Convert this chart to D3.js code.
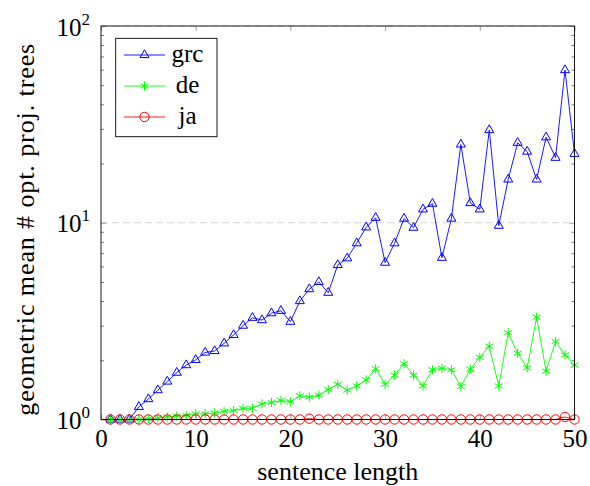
<!DOCTYPE html>
<html>
<head>
<meta charset="utf-8">
<script src="https://cdn.jsdelivr.net/npm/d3@7"></script>
</head>
<body style="margin:0">
<div id="chart"></div>
<script>
// values
const sentLen = [1,2,3,4,5,6,7,8,9,10,11,12,13,14,15,16,17,18,19,20,21,22,23,24,25,
                 26,27,28,29,30,31,32,33,34,35,36,37,38,39,40,41,42,43,44,45,46,47,48,49,50];
const grcVals = [1.0,1.0,1.0,1.16,1.27,1.41,1.56,1.73,1.89,2.01,2.19,2.23,2.44,2.69,3.0,3.29,3.2,3.47,3.57,3.14,
                 4.0,4.6,5.0,4.41,6.1,6.6,7.87,9.48,10.6,6.27,7.87,10.5,9.44,11.7,12.5,6.64,10.5,25.0,12.6,11.7,
                 29.6,9.66,16.6,25.5,23.0,16.6,27.2,21.4,59.7,22.4];
const deVals  = [1.0,1.0,1.0,1.0,1.01,1.02,1.03,1.04,1.05,1.07,1.07,1.08,1.10,1.11,1.14,1.14,1.2,1.22,1.25,1.23,
                 1.32,1.30,1.33,1.42,1.51,1.41,1.48,1.59,1.81,1.51,1.68,1.92,1.68,1.48,1.79,1.82,1.79,1.47,1.80,2.07,
                 2.36,1.48,2.76,2.17,1.83,3.31,1.76,2.49,2.13,1.89];
const jaVals  = [1.0,1.0,1.0,1.0,1.0,1.0,1.0,1.0,1.0,1.0,1.0,1.0,1.0,1.0,1.0,1.0,1.0,1.0,1.0,1.0,
                 1.0,1.01,1.0,1.0,1.0,1.0,1.0,1.0,1.0,1.0,1.0,1.0,1.0,1.0,1.0,1.0,1.0,1.0,1.0,1.0,
                 1.0,1.0,1.0,1.0,1.0,1.0,1.0,1.0,1.03,1.0];
const xTicks = [0,10,20,30,40,50];
const yTicks = [1,10,100];
const yTickExp = ["0","1","2"];

const width = 590, height = 486;
const margin = {left:101, right:15.5, top:26, bottom:66.5};
const fontSize = 25;
const serif = "Liberation Serif";

const svg = d3.select("#chart")
  .append("svg")
  .attr("width", width)
  .attr("height", height)
  .attr("font-family", serif);

const xScale = d3.scaleLinear()
  .domain([0, 50])
  .range([margin.left, width - margin.right]);

const yScale = d3.scaleLog()
  .domain([1, 100])
  .range([height - margin.bottom, margin.top]);

const x0 = xScale.range()[0], x1 = xScale.range()[1];
const yB = yScale.range()[0], yT = yScale.range()[1];

// dashed major grid
svg.append("g")
  .selectAll("line")
  .data(yTicks)
  .join("line")
    .attr("x1", x0).attr("x2", x1)
    .attr("y1", d => yScale(d)).attr("y2", d => yScale(d))
    .attr("stroke", "#d3d3d3")
    .attr("stroke-width", 1)
    .attr("stroke-dasharray", "7,4");

// minor y ticks (2..9 in each decade), both sides
const minor = [];
[1, 10].forEach(dec => { for (let k = 2; k <= 9; k++) minor.push(dec * k); });

svg.append("g")
  .attr("transform", `translate(${x0},0)`)
  .call(d3.axisRight(yScale).tickValues(minor).tickSize(3).tickFormat(""))
  .call(g => g.select(".domain").remove())
  .selectAll("line").attr("stroke", "#555").attr("stroke-width", 0.8);

svg.append("g")
  .attr("transform", `translate(${x1},0)`)
  .call(d3.axisLeft(yScale).tickValues(minor).tickSize(3).tickFormat(""))
  .call(g => g.select(".domain").remove())
  .selectAll("line").attr("stroke", "#555").attr("stroke-width", 0.8);

// major y ticks
[[x0, d3.axisRight], [x1, d3.axisLeft]].forEach(([pos, ax]) => {
  svg.append("g")
    .attr("transform", `translate(${pos},0)`)
    .call(ax(yScale).tickValues(yTicks).tickSize(5).tickFormat(""))
    .call(g => g.select(".domain").remove())
    .selectAll("line").attr("stroke", "#888").attr("stroke-width", 0.8);
});

// x ticks, bottom and top, pointing inward
const xAxis = svg.append("g")
  .attr("transform", `translate(0,${yB})`)
  .call(d3.axisBottom(xScale).tickValues(xTicks).tickSize(-5).tickPadding(0))
  .attr("font-family", serif)
  .attr("font-size", fontSize);
xAxis.select(".domain").remove();
xAxis.selectAll("line").attr("stroke", "#888").attr("stroke-width", 0.8);
xAxis.selectAll("text")
  .attr("y", 27).attr("dy", null)
  .attr("fill", "#000")
  .attr("font-family", serif)
  .attr("font-size", fontSize);

svg.append("g")
  .attr("transform", `translate(0,${yT})`)
  .call(d3.axisTop(xScale).tickValues(xTicks).tickSize(-5).tickFormat(""))
  .call(g => g.select(".domain").remove())
  .selectAll("line").attr("stroke", "#888").attr("stroke-width", 0.8);

// y tick labels 10^k
const yLab = svg.append("g")
  .selectAll("text")
  .data(yTicks)
  .join("text")
    .attr("x", x0 - 11)
    .attr("y", d => yScale(d) + 9.5)
    .attr("text-anchor", "end")
    .attr("font-family", serif)
    .attr("font-size", fontSize);
yLab.append("tspan").text("10");
yLab.append("tspan")
  .attr("dy", -11)
  .attr("font-size", 17)
  .text((d, i) => yTickExp[i]);

// series
const series = [
  {name: "grc", vals: grcVals, color: "#0000ff", mark: "tri"},
  {name: "de",  vals: deVals,  color: "#00ff00", mark: "star"},
  {name: "ja",  vals: jaVals,  color: "#ff0000", mark: "circ"}
];

const line = d3.line()
  .x(d => xScale(d[0]))
  .y(d => yScale(d[1]));

function drawMark(g, type, color) {
  if (type === "tri") {
    g.append("path")
      .attr("d", "M0,-5.2L4.5,2.6L-4.5,2.6Z")
      .attr("fill", "none").attr("stroke", color).attr("stroke-width", 1);
  } else if (type === "star") {
    [90, 30, -30].forEach(a => {
      const r = 4.6, c = Math.cos(a * Math.PI / 180) * r, s = Math.sin(a * Math.PI / 180) * r;
      g.append("line")
        .attr("x1", -c).attr("y1", -s).attr("x2", c).attr("y2", s)
        .attr("stroke", color).attr("stroke-width", 1);
    });
  } else {
    g.append("circle")
      .attr("r", 4.7)
      .attr("fill", "none").attr("stroke", color).attr("stroke-width", 1);
  }
}

series.forEach(s => {
  const pts = sentLen.map((x, i) => [x, s.vals[i]]);
  const g = svg.append("g");
  g.append("path")
    .datum(pts)
    .attr("d", line)
    .attr("fill", "none")
    .attr("stroke", s.color)
    .attr("stroke-width", 0.9);
  g.selectAll(".mk")
    .data(pts)
    .join("g")
      .attr("class", "mk")
      .attr("transform", d => `translate(${xScale(d[0])},${yScale(d[1])})`)
      .each(function() { drawMark(d3.select(this), s.mark, s.color); });
});

// frame
svg.append("rect")
  .attr("x", x0).attr("y", yT)
  .attr("width", x1 - x0).attr("height", yB - yT)
  .attr("fill", "none")
  .attr("stroke", "#000")
  .attr("stroke-width", 0.9);

// legend
const leg = svg.append("g");
leg.append("rect")
  .attr("x", 115.7).attr("y", 38.3)
  .attr("width", 101.3).attr("height", 98.4)
  .attr("fill", "#fff").attr("stroke", "#000").attr("stroke-width", 0.9);

series.forEach((s, i) => {
  const y = 55 + i * 31;
  const e = leg.append("g").attr("transform", `translate(0,${y})`);
  e.append("line")
    .attr("x1", 124).attr("x2", 165)
    .attr("stroke", s.color).attr("stroke-width", 0.9);
  drawMark(e.append("g").attr("transform", "translate(144.5,0)"), s.mark, s.color);
  e.append("text")
    .attr("x", 187.5).attr("y", 7)
    .attr("text-anchor", "middle")
    .attr("font-family", serif)
    .attr("font-size", fontSize)
    .text(s.name);
});

// axis labels
svg.append("text")
  .attr("x", (x0 + x1) / 2)
  .attr("y", 480)
  .attr("text-anchor", "middle")
  .attr("font-family", serif)
  .attr("font-size", 26)
  .text("sentence length");

svg.append("text")
  .attr("transform", `translate(34,${(yT + yB) / 2 + 7}) rotate(-90)`)
  .attr("text-anchor", "middle")
  .attr("textLength", 372)
  .attr("lengthAdjust", "spacing")
  .attr("font-family", serif)
  .attr("font-size", 26)
  .text("geometric mean # opt. proj. trees");
</script>
</body>
</html>
